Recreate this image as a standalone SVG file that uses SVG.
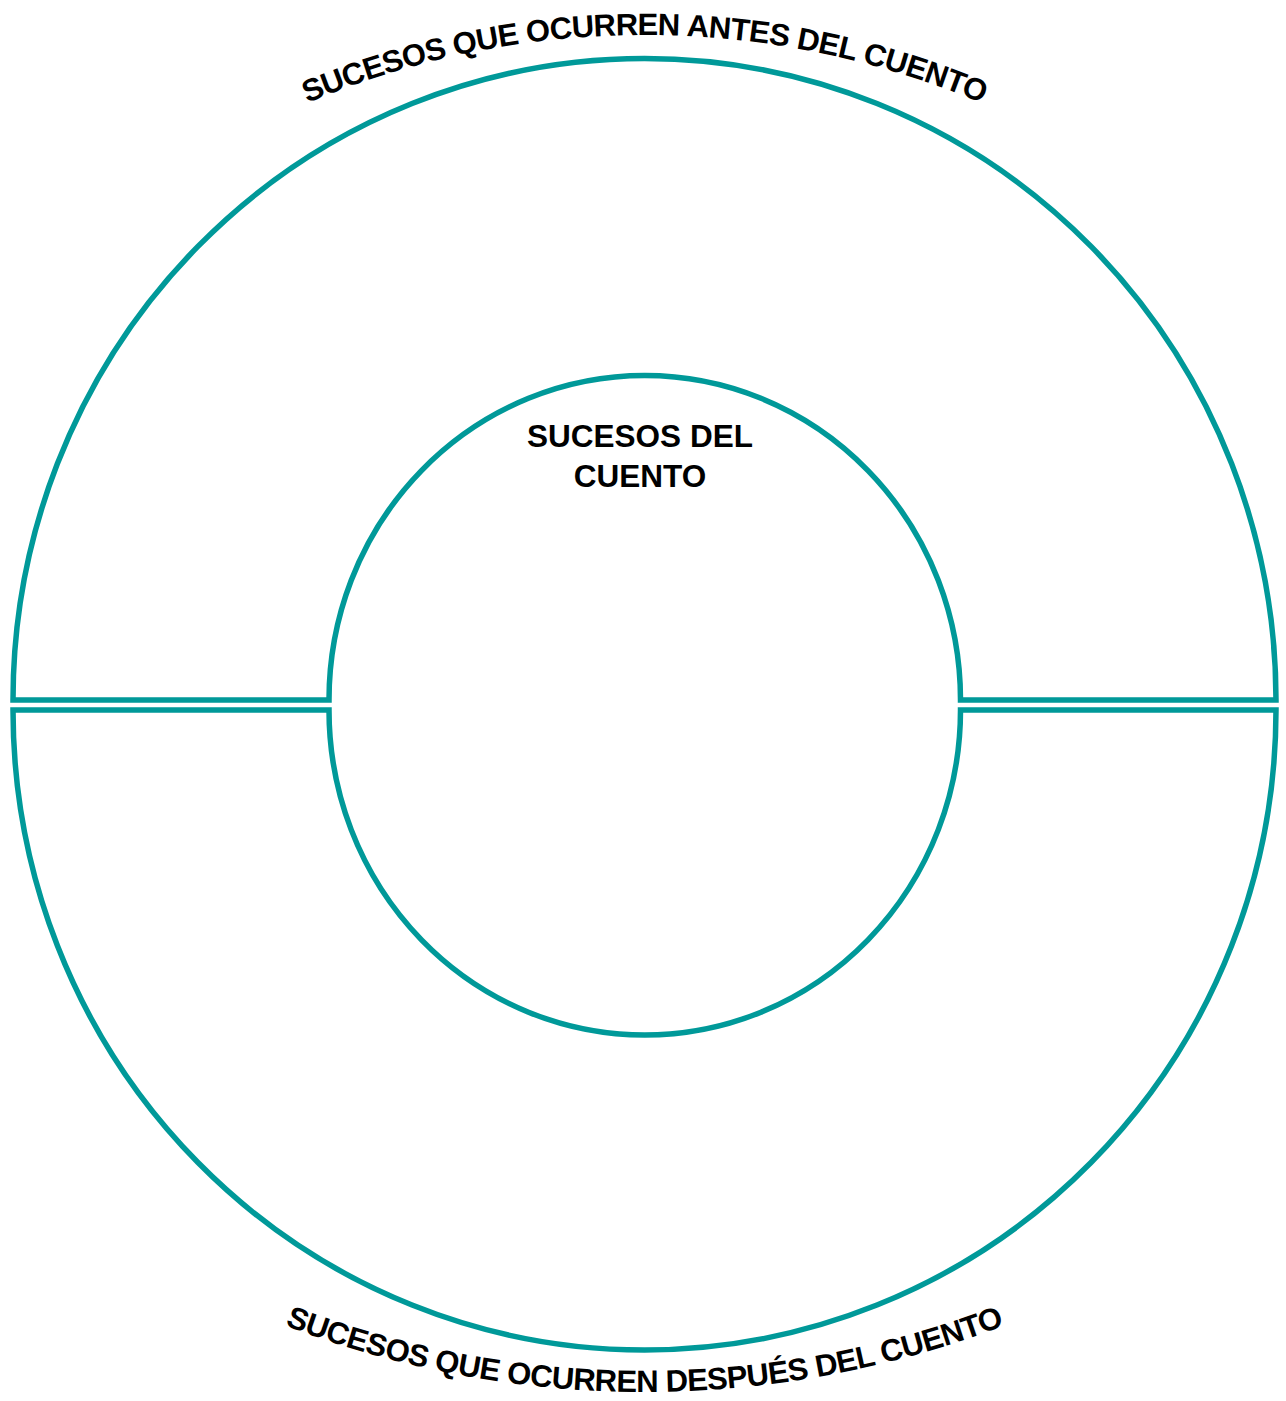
<svg xmlns="http://www.w3.org/2000/svg" width="1286" height="1401" viewBox="0 0 1286 1401">
  <style>
    .ring { fill: #ffffff; stroke: #009999; stroke-width: 5.5; stroke-linejoin: miter; }
    .lbl { font-family: "Liberation Sans", Arial, sans-serif; font-weight: bold; fill: #000000; }
    .arc { font-size: 31px; letter-spacing: -0.6px; }
    .center { font-size: 31.5px; }
  </style>
  <defs>
    <path id="topArc" d="M -225.5 905 A 870 870 0 0 1 1514.5 905" fill="none"/>
    <path id="bottomArc" d="M -362.5 385 A 1007 1007 0 0 0 1651.5 385" fill="none"/>
  </defs>
  <rect width="1286" height="1401" fill="#ffffff"/>
  <g id="before">
    <path class="ring" d="M 13 700 A 631.5 641.5 0 0 1 1276 700 L 960.5 700 A 315.75 324.5 0 0 0 329 700 Z"/>
    <text class="lbl arc"><textPath href="#topArc" startOffset="50%" text-anchor="middle">SUCESOS QUE OCURREN ANTES DEL CUENTO</textPath></text>
  </g>
  <g id="after">
    <path class="ring" d="M 13 710 A 631.5 640 0 0 0 1276 710 L 960.5 710 A 315.75 325 0 0 1 329 710 Z"/>
    <text class="lbl arc"><textPath href="#bottomArc" startOffset="50%" text-anchor="middle">SUCESOS QUE OCURREN DESPUÉS DEL CUENTO</textPath></text>
  </g>
  <g id="story">
    <text class="lbl center" x="640" y="447" text-anchor="middle">SUCESOS DEL</text>
    <text class="lbl center" x="640" y="487" text-anchor="middle">CUENTO</text>
  </g>
  <g id="connectors"></g>
</svg>
